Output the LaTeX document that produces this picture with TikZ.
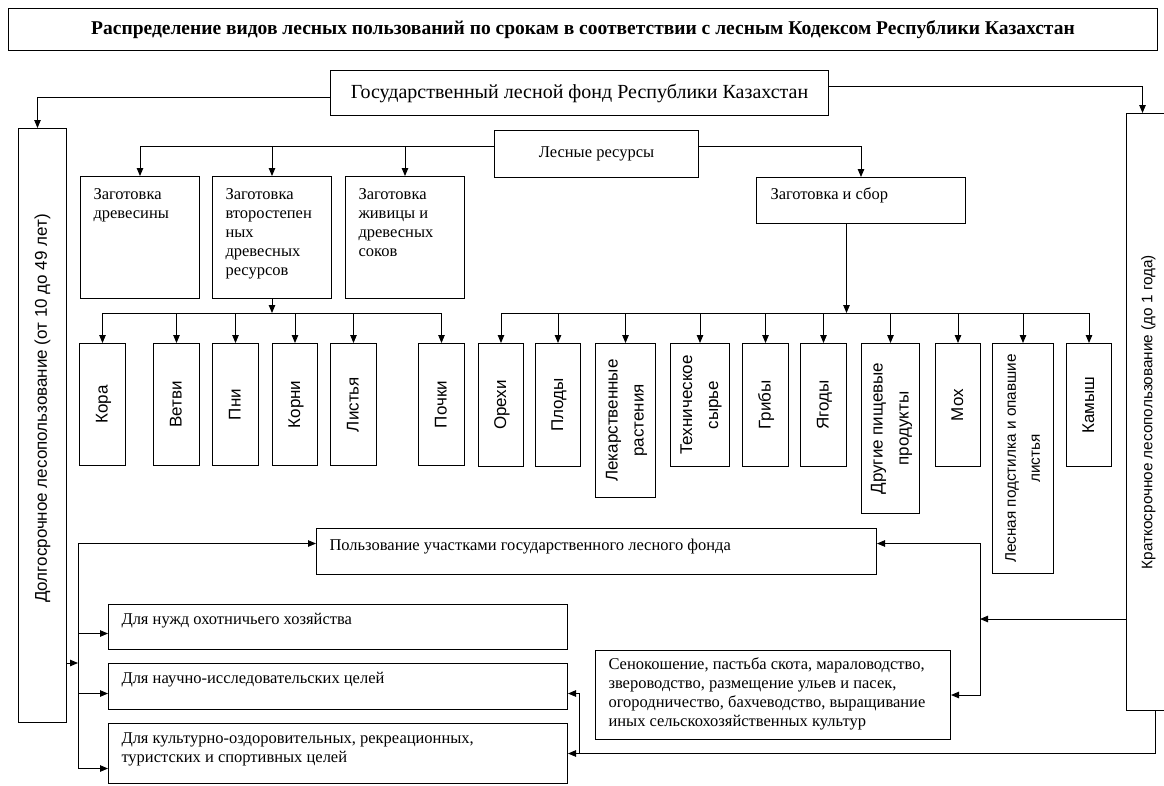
\documentclass[tikz,border=0pt]{standalone}
\usepackage{fontspec}
\setmainfont{Liberation Serif}
\newfontfamily\sansrot{Liberation Sans}
\usetikzlibrary{arrows.meta}

\tikzset{
  frame/.style={draw=black, line width=1pt, inner sep=0pt, anchor=north west},
  vbox/.style={frame, font=\sansrot\fontsize{17}{26}\selectfont},
  link/.style={line width=0.9pt},
  arr/.style={link, -{Triangle[length=8pt, width=6.5pt]}},
}
% текст в рамке: ширина, высота, строки (прижаты к левому верхнему углу)
\newcommand{\tbox}[3]{\parbox[c][#2][t]{#1}{\begin{tabular}[t]{@{}l@{}}#3\end{tabular}}}
% повёрнутая подпись
\newcommand{\vlab}[1]{\rotatebox{90}{\begin{tabular}{@{}c@{}}#1\end{tabular}}}

\begin{document}
\begin{tikzpicture}[x=1pt, y=-1pt, font=\fontsize{16.5}{19}\selectfont]
  \path[use as bounding box, fill=white] (0,0) rectangle (1164,785);

  % === заголовок ===
  \node[frame, minimum width=1149pt, minimum height=42pt,
        font=\bfseries\fontsize{19.5}{22}\selectfont] (title) at (8,8)
    {Распределение видов лесных пользований по срокам в соответствии с лесным Кодексом Республики Казахстан};

  % === верхний уровень ===
  \node[frame, minimum width=498pt, minimum height=45pt,
        font=\fontsize{20}{24}\selectfont] (gos) at (330,70)
    {Государственный лесной фонд Республики Казахстан};
  \node[frame, minimum width=204pt, minimum height=47pt] (les) at (494,130) {Лесные ресурсы};

  % боковые рамки: долгосрочное и краткосрочное пользование
  \node[vbox, minimum width=48pt, minimum height=594pt] (dolg) at (18,128)
    {\rotatebox{90}{\hspace*{34pt}Долгосрочное лесопользование (от 10 до 49 лет)}};
  \node[vbox, minimum width=44pt, minimum height=597pt,
        font=\sansrot\fontsize{15.3}{20}\selectfont] (krat) at (1126,113)
    {\rotatebox{90}{Краткосрочное лесопользование (до 1 года)}};

  % === виды заготовки ===
  \node[frame, minimum width=119pt, minimum height=122pt] (drev) at (80,176)
    {\tbox{93pt}{102pt}{Заготовка\\древесины}};
  \node[frame, minimum width=119pt, minimum height=122pt] (vtor) at (212,176)
    {\tbox{93pt}{102pt}{Заготовка\\второстепен\\ных\\древесных\\ресурсов}};
  \node[frame, minimum width=119pt, minimum height=122pt] (zhiv) at (345,176)
    {\tbox{93pt}{102pt}{Заготовка\\живицы и\\древесных\\соков}};
  \node[frame, minimum width=209pt, minimum height=46pt] (sbor) at (756,177)
    {\tbox{181pt}{28pt}{Заготовка и сбор}};

  % === вертикальные рамки второго уровня (верх на y=343) ===
  \foreach \n/\x/\w/\h/\t in {
      kora/79/46/122/{Кора}, vetvi/153/46/122/{Ветви}, pni/212/46/122/{Пни},
      korni/272/45/122/{Корни}, listya/330/46/122/{Листья}, pochki/418/46/122/{Почки},
      orehi/478/45/123/{Орехи}, plody/535/45/123/{Плоды},
      lekar/595/60/154/{Лекарственные\\растения},
      tehn/670/59/123/{Техническое\\сырье},
      griby/742/46/123/{Грибы}, yagody/800/46/123/{Ягоды},
      drugie/861/58/170/{Другие пищевые\\продукты},
      moh/935/45/123/{Мох},
      kamysh/1066/45/123/{Камыш}} {
    \node[vbox, minimum width=\w pt, minimum height=\h pt] (\n) at (\x,343) {\vlab{\t}};
  }
  \node[vbox, minimum width=61pt, minimum height=230pt,
        font=\sansrot\fontsize{15.3}{24}\selectfont] (podst) at (992,343)
    {\vlab{Лесная подстилка и опавшие\\листья}};

  % === пользование участками ===
  \node[frame, minimum width=560pt, minimum height=46pt] (polz) at (316,528)
    {\tbox{534pt}{28pt}{Пользование участками государственного лесного фонда}};
  \node[frame, minimum width=459pt, minimum height=45pt] (nuzhd) at (108,604)
    {\tbox{433pt}{31pt}{Для нужд охотничьего хозяйства}};
  \node[frame, minimum width=459pt, minimum height=46pt] (nauch) at (108,663)
    {\tbox{433pt}{32pt}{Для научно-исследовательских целей}};
  \node[frame, minimum width=459pt, minimum height=60pt] (kult) at (108,723)
    {\tbox{433pt}{46pt}{Для культурно-оздоровительных, рекреационных,\\туристских и спортивных целей}};
  \node[frame, minimum width=355pt, minimum height=89pt] (seno) at (595,650)
    {\tbox{329pt}{77pt}{Сенокошение, пастьба скота, мараловодство,\\звероводство, размещение ульев и пасек,\\огородничество, бахчеводство, выращивание\\иных сельскохозяйственных культур}};

  % === связи от фонда ===
  \draw[arr] ([yshift=-4.5pt]gos.west) -| ([xshift=-5pt]dolg.north);
  \draw[arr] ([yshift=6.5pt]gos.east) -| ([xshift=-6pt]krat.north);

  % === связи от лесных ресурсов ===
  \coordinate (lesL) at ([yshift=7.5pt]les.west);
  \coordinate (lesR) at ([yshift=7.5pt]les.east);
  \draw[arr] (lesL) -| (drev.north);
  \draw[arr] (vtor.north |- lesL) -- (vtor.north);
  \draw[arr] (zhiv.north |- lesL) -- (zhiv.north);
  \draw[arr] (lesR) -| (sbor.north);

  % шина второго уровня (y=313)
  \coordinate (lb) at (0,313);
  \draw[arr] (vtor.south) -- (vtor.south |- lb);
  \draw[link] (kora.north |- lb) -- (pochki.north |- lb);
  \foreach \n in {kora,vetvi,pni,korni,listya,pochki}
    \draw[arr] (\n.north |- lb) -- (\n.north);

  \coordinate (sborB) at ([xshift=-14.5pt]sbor.south);
  \draw[arr] (sborB) -- (sborB |- lb);
  \draw[link] (orehi.north |- lb) -- (kamysh.north |- lb);
  \foreach \n in {orehi,plody,lekar,tehn,griby,yagody,drugie,moh,podst,kamysh}
    \draw[arr] (\n.north |- lb) -- (\n.north);

  % === долгосрочное: шина слева ===
  \coordinate (lbus) at (78,663);
  \draw[arr] (dolg.east |- lbus) -- (lbus);
  \draw[arr] (lbus) |- ([yshift=8pt]polz.west);
  \draw[arr] (lbus) |- ([yshift=-6.5pt]nuzhd.west);
  \draw[arr] (lbus) |- ([yshift=-7pt]nauch.west);
  \draw[arr] (lbus) |- ([yshift=-15pt]kult.west);

  % === краткосрочное: шина справа ===
  \coordinate (rbus) at (980,619);
  \draw[arr] (krat.west |- rbus) -- (rbus);
  \draw[arr] (rbus) |- ([yshift=8pt]polz.east);
  \draw[arr] (rbus) |- (seno.east);
  \coordinate (kratB) at ([xshift=7pt]krat.south);
  \draw[arr] (kratB) |- (kult.east);
  \coordinate (kb) at (579,0);
  \draw[arr] (kb |- kult.east) |- ([yshift=-7pt]nauch.east);
\end{tikzpicture}
\end{document}
